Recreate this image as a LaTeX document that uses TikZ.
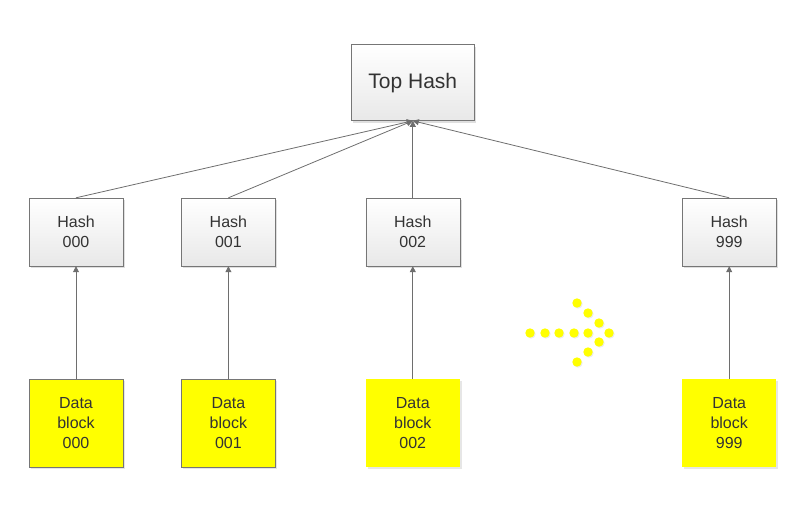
\documentclass[tikz,border=0pt]{standalone}
\usepackage{fontspec}
\setmainfont{Liberation Sans}
\usepackage{tikz}
\usetikzlibrary{positioning}
\usetikzlibrary{shadows}
\usetikzlibrary{arrows.meta}
\definecolor{linegray}{HTML}{6E6E6E}
\definecolor{boxgray}{HTML}{767676}
\definecolor{textgray}{HTML}{333333}
\definecolor{blockyellow}{HTML}{FFFF00}

\begin{document}
\begin{tikzpicture}[x=1pt, y=1pt, >={Triangle[length=6pt, width=6pt]},
    every node/.style = {text=textgray, align=center, font=\fontsize{16}{20}\selectfont},
    hashbox/.style = {draw=boxgray, top color=white, bottom color=gray!18,
      minimum width=94pt, minimum height=68pt, inner sep=0pt,
      drop shadow={shadow xshift=2pt, shadow yshift=-2pt, opacity=0.25}},
    blockbox/.style = {fill=blockyellow, minimum width=94pt, minimum height=88pt, inner sep=0pt,
      drop shadow={shadow xshift=2pt, shadow yshift=-2pt, opacity=0.2}},
    link/.style = {draw=linegray, ->, line width=0.8pt}
    ]
    \useasboundingbox (0,0) rectangle (806,-513);

    \node[hashbox] (h000) at (76,-232) {Hash\\000};
    \node[hashbox] (h001) [right=58pt of h000] {Hash\\001};
    \node[hashbox] (h002) [right=90pt of h001] {Hash\\002};
    \node[hashbox] (h999) [right=222pt of h002] {Hash\\999};
    \node[hashbox, minimum width=123pt, minimum height=76pt,
      font=\fontsize{21}{25}\selectfont] (top) [above=77pt of h002] {Top Hash};

    \node[blockbox, draw=boxgray] (d000) [below=113pt of h000] {Data\\block\\000};
    \node[blockbox, draw=boxgray] (d001) [below=113pt of h001] {Data\\block\\001};
    \node[blockbox] (d002) [below=113pt of h002] {Data\\block\\002};
    \node[blockbox] (d999) [below=113pt of h999] {Data\\block\\999};

    \foreach \n in {000, 001, 002, 999} {
      \draw[link] (h\n.north) -- (top.south);
      \draw[link] (d\n.north) -- (h\n.south);
    }

    % dotted arrow between 002 and 999
    \foreach \x/\y in {530/333, 545/333, 559/333, 574/333, 588/333, 609/333,
        577/303, 588/313, 599/323, 599/342, 588/352, 577/362}
      \fill[blockyellow, drop shadow={shadow xshift=1pt, shadow yshift=-1pt, opacity=0.15}]
        (\x,-\y) circle (4.7pt);
\end{tikzpicture}
\end{document}
